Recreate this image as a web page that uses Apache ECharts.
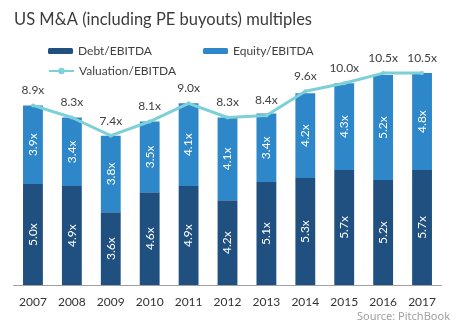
<!DOCTYPE html>
<html>
<head>
<meta charset="utf-8">
<script src="https://cdn.jsdelivr.net/npm/echarts@6/dist/echarts.min.js"></script>
<style>
  html, body { margin: 0; padding: 0; background: #ffffff; }
  #chart { width: 470px; height: 335px; }
</style>
</head>
<body>
<div id="chart"></div>
<script>
// Deal multiples by year
const years = ['2007', '2008', '2009', '2010', '2011', '2012', '2013', '2014', '2015', '2016', '2017'];
const debtEbitda = [5.0, 4.9, 3.6, 4.6, 4.9, 4.2, 5.1, 5.3, 5.7, 5.2, 5.7];
const equityEbitda = [3.9, 3.4, 3.8, 3.5, 4.1, 4.1, 3.4, 4.2, 4.3, 5.2, 4.8];
const valuationEbitda = [8.9, 8.3, 7.4, 8.1, 9.0, 8.3, 8.4, 9.6, 10.0, 10.5, 10.5];

const FONT = 'Lato';
const fmt = p => p.value.toFixed(1) + 'x';

const chart = echarts.init(document.getElementById('chart'));

const barLabel = {
  show: true,
  position: 'inside',
  rotate: 90,
  color: '#ffffff',
  fontFamily: FONT,
  fontSize: 12,
  formatter: fmt
};

chart.setOption({
  animation: false,
  backgroundColor: '#ffffff',
  title: {
    text: 'US M&A (including PE buyouts) multiples',
    left: 9,
    top: 6,
    textStyle: { fontFamily: FONT, fontSize: 16.5, fontWeight: 'normal', color: '#3c3c3c' }
  },
  graphic: [{
    type: 'text',
    right: 20,
    top: 311,
    style: { text: 'Source: PitchBook', fontFamily: 'Noto Sans', fontSize: 11, fill: '#a0a0a0' }
  }],
  legend: [
    {
      data: ['Debt/EBITDA'],
      left: 43, top: 40,
      itemWidth: 25, itemHeight: 6,
      textStyle: { fontFamily: FONT, fontSize: 12, color: '#404040' }
    },
    {
      data: ['Equity/EBITDA'],
      left: 198, top: 40,
      itemWidth: 25, itemHeight: 6,
      textStyle: { fontFamily: FONT, fontSize: 12, color: '#404040' }
    },
    {
      data: ['Valuation/EBITDA'],
      left: 43, top: 60,
      itemWidth: 25, itemHeight: 8,
      textStyle: { fontFamily: FONT, fontSize: 12, color: '#404040' }
    }
  ],
  grid: { left: 13.5, right: 28.5, top: 63, bottom: 50 },
  xAxis: {
    type: 'category',
    data: years,
    axisLine: { lineStyle: { color: '#a0a0a0', width: 1 } },
    axisTick: { show: false },
    axisLabel: { fontFamily: FONT, fontSize: 12, color: '#333333', margin: 11 }
  },
  yAxis: {
    type: 'value',
    min: 0,
    max: 11,
    show: false,
    splitLine: { show: false }
  },
  series: [
    {
      name: 'Debt/EBITDA',
      type: 'bar',
      stack: 'total',
      data: debtEbitda,
      barWidth: '51%',
      itemStyle: { color: '#1f5080' },
      label: barLabel
    },
    {
      name: 'Equity/EBITDA',
      type: 'bar',
      stack: 'total',
      data: equityEbitda,
      itemStyle: { color: '#2e87c8' },
      label: barLabel
    },
    {
      name: 'Valuation/EBITDA',
      type: 'line',
      data: valuationEbitda,
      symbol: 'circle',
      symbolSize: 4,
      lineStyle: { color: '#7dd0d8', width: 3 },
      itemStyle: { color: '#7dd0d8' },
      label: {
        show: true,
        position: 'top',
        distance: 7,
        color: '#404040',
        fontFamily: FONT,
        fontSize: 12,
        formatter: fmt
      },
      z: 5
    }
  ]
});
</script>
</body>
</html>
